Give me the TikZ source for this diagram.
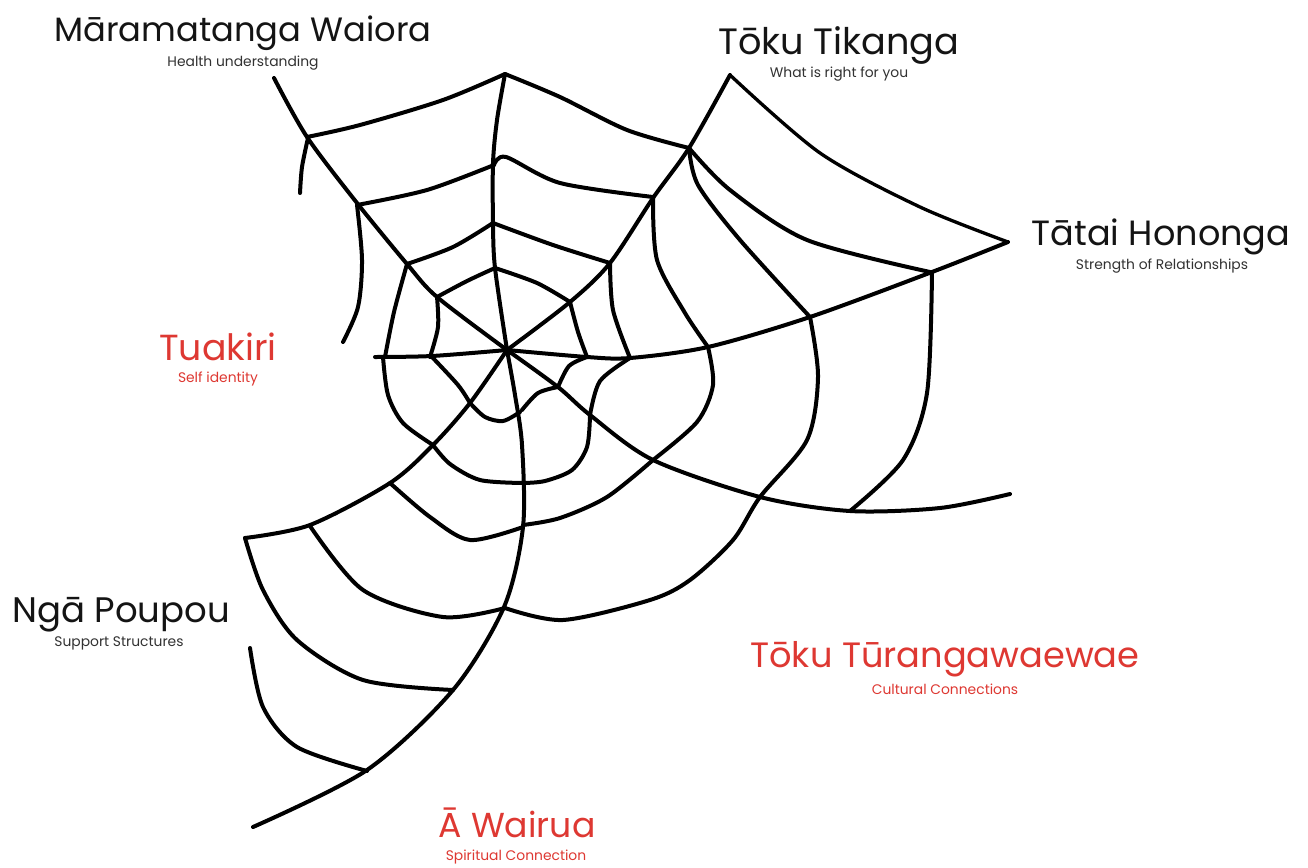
\documentclass[tikz,border=0pt]{standalone}
\usepackage{fontspec}
\setmainfont{Poppins}
\definecolor{webred}{RGB}{222,56,50}
\definecolor{ink}{RGB}{20,20,20}
\definecolor{subink}{RGB}{50,50,50}
\newcommand{\titlesize}[1]{\fontsize{#1}{#1}\selectfont}
\begin{document}
\begin{tikzpicture}[x=0.75pt,y=-0.75pt,
  web/.style={line width=3pt,line cap=round,line join=round,black},
  thinweb/.style={line width=2.5pt,line cap=round,line join=round,black},
  title/.style={anchor=base,inner sep=0pt,font=\titlesize{26.5},text=ink},
  subtitle/.style={anchor=base,inner sep=0pt,font=\fontsize{10.4}{12}\selectfont,text=subink},
  redtitle/.style={title,text=webred},
  redsub/.style={subtitle,text=webred}]
\useasboundingbox (0,0) rectangle (1308,867);
\fill[white] (0,0) rectangle (1308,867);

% ---- spokes ----
\draw[web] plot[smooth] coordinates {(505,74) (497,120) (493,163) (493,223) (495,268) (507,350)};
\draw[web] plot[smooth] coordinates {(274,78) (307,137) (357,203) (407,264) (437,297) (507,350)};
\draw[web] plot[smooth] coordinates {(730,75) (689,148) (653,198) (610,263) (570,302) (507,350)};
\draw[web] plot[smooth] coordinates {(507,350) (587,357) (630,358) (708,347) (810,317) (932,272) (1008,242)};
\draw[web] plot[smooth] coordinates {(375,357) (432,356) (507,350)};
\draw[web] plot[smooth] coordinates {(507,350) (470,403) (433,445) (390,483) (310,525) (245,538)};
\draw[web] plot[smooth] coordinates {(507,350) (515,395) (522,445) (523,527) (504,607) (453,690) (367,770) (253,827)};
\draw[web] plot[smooth] coordinates {(507,350) (558,387) (590,415) (653,460) (760,497) (850,511) (940,508) (1010,494)};

% ---- innermost ring ----
\draw[web] plot[smooth] coordinates {(430,357) (438,327) (437,297)};
\draw[web] plot[smooth] coordinates {(437,297) (467,281) (495,268)};
\draw[web] plot[smooth] coordinates {(495,268) (537,283) (570,302)};
\draw[web] plot[smooth] coordinates {(570,302) (578,332) (587,357)};
\draw[web] plot[smooth] coordinates {(587,357) (569,366) (558,387)};
\draw[web] plot[smooth] coordinates {(558,387) (538,393) (522,410)};
\draw[web] plot[smooth] coordinates {(520,412) (503,421) (485,417) (470,403)};
\draw[web] plot[smooth] coordinates {(470,403) (458,385) (432,357)};

% ---- second ring ----
\draw[web] plot[smooth] coordinates {(385,357) (394,312) (407,264)};
\draw[web] plot[smooth] coordinates {(407,264) (453,247) (493,223)};
\draw[web] plot[smooth] coordinates {(493,223) (553,245) (610,263)};
\draw[web] plot[smooth] coordinates {(610,263) (613,310) (630,358)};
\draw[web] plot[smooth] coordinates {(630,358) (600,381) (590,415)};
\draw[web] plot[smooth] coordinates {(590,415) (587,447) (572,470) (545,481) (523,483)};
\draw[web] plot[smooth] coordinates {(523,483) (480,480) (450,464) (433,445)};
\draw[web] plot[smooth] coordinates {(433,445) (403,423) (388,395) (383,357)};

% ---- third ring ----
\draw[web] plot[smooth] coordinates {(343,342) (358,307) (362,260) (357,205)};
\draw[web] plot[smooth] coordinates {(357,205) (427,190) (494,165)};
\draw[web] plot[smooth] coordinates {(494,165) (506,157) (560,183) (653,197)};
\draw[web] plot[smooth] coordinates {(653,198) (657,260) (685,313) (708,347)};
\draw[web] plot[smooth] coordinates {(708,347) (713,385) (697,422) (653,460)};
\draw[web] plot[smooth] coordinates {(653,460) (607,497) (560,518) (523,525)};
\draw[web] plot[smooth] coordinates {(523,527) (470,540) (430,517) (390,483)};

% ---- fourth ring ----
\draw[web] plot[smooth] coordinates {(308,138) (302,167) (300,193)};
\draw[web] plot[smooth] coordinates {(307,137) (360,125) (443,100) (505,74)};
\draw[web] plot[smooth] coordinates {(505,74) (560,97) (627,130) (689,148)};
\draw[web] plot[smooth] coordinates {(689,148) (698,185) (740,240) (810,317)};
\draw[web] plot[smooth] coordinates {(810,317) (818,377) (807,440) (760,497) (733,540) (690,580) (650,600) (563,620) (505,608)};
\draw[web] plot[smooth] coordinates {(505,608) (443,617) (363,590) (310,526)};

% ---- outer rings ----
\draw[web] plot[smooth] coordinates {(689,148) (730,190) (807,240) (930,272)};
\draw[web] plot[smooth] coordinates {(932,272) (927,393) (903,460) (850,511)};
\draw[web] plot[smooth] coordinates {(245,538) (263,590) (297,640) (363,680) (453,690)};
\draw[thinweb] plot[smooth] coordinates {(730,75) (820,153) (920,207) (1008,242)};
\draw[web] plot[smooth] coordinates {(250,648) (263,707) (297,747) (367,771)};

% ---- labels ----
\node[title,font=\titlesize{25.3}] (mw) at (243,42) {Māramatanga Waiora};
\node[subtitle] (mws) at (243,66) {Health understanding};
\node[title,font=\titlesize{27.5}] (tt) at (839,55) {Tōku Tikanga};
\node[subtitle] (tts) at (839,78) {What is right for you};
\node[title,font=\titlesize{26.3}] (th) at (1161,245) {Tātai Hononga};
\node[subtitle] (ths) at (1162,269) {Strength of Relationships};
\node[redtitle,font=\titlesize{27.2}] (tk) at (218,360) {Tuakiri};
\node[redsub] (tks) at (218,382) {Self identity};
\node[title,font=\titlesize{26.6}] (np) at (121,622) {Ngā Poupou};
\node[subtitle] (nps) at (119,646) {Support Structures};
\node[redtitle,font=\titlesize{26.4}] (tu) at (945,667) {Tōku Tūrangawaewae};
\node[redsub] (tus) at (945,694) {Cultural Connections};
\node[redtitle,font=\titlesize{26}] (aw) at (517,837) {Ā Wairua};
\node[redsub] (aws) at (516,860) {Spiritual Connection};
\end{tikzpicture}
\end{document}
